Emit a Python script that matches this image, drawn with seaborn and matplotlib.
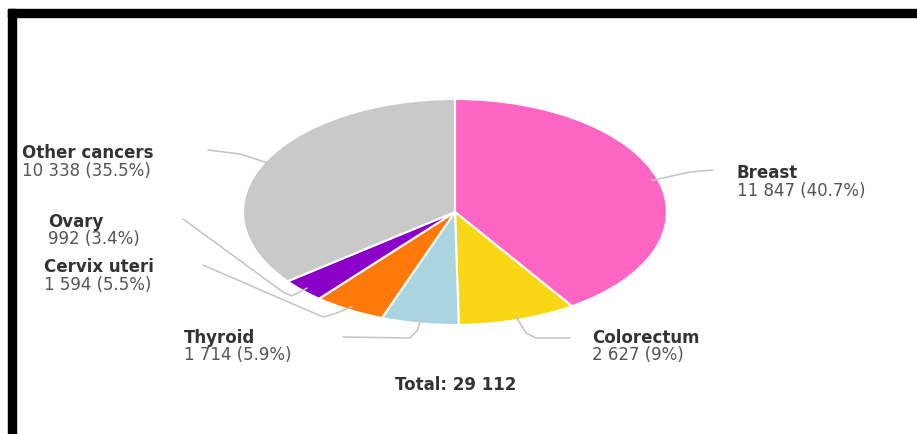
import matplotlib
matplotlib.use("Agg")
import matplotlib.pyplot as plt
from matplotlib.patches import Rectangle
import numpy as np
import seaborn as sns

# data
sites = ["Breast", "Colorectum", "Thyroid", "Cervix uteri", "Ovary", "Other cancers"]
cases = [11847, 2627, 1714, 1594, 992, 10338]
shares = ["40.7%", "9%", "5.9%", "5.5%", "3.4%", "35.5%"]
total = 29112

colors = ["#FF66C4", "#FAD714", "#A9D4E0", "#FF7A0A", "#8B00C9", "#C9C9C9"]

# label layout in pixels (left x, name line y) and leader elbows
label_pos = {
    "Breast": (737, 173),
    "Colorectum": (592, 338),
    "Thyroid": (184, 338),
    "Cervix uteri": (44, 267),
    "Ovary": (48, 222),
    "Other cancers": (22, 153),
}
leaders = {
    "Breast": [(713, 170), (690, 172)],
    "Colorectum": [(570, 338), (536, 338), (526, 333)],
    "Thyroid": [(343, 337), (410, 338), (417, 331)],
    "Cervix uteri": [(203, 265), (323, 317), (334, 314)],
    "Ovary": [(183, 219), (283, 292), (292, 296)],
    "Other cancers": [(208, 150), (240, 154)],
}

sns.set_theme(style="white")
plt.rcParams["font.family"] = ["DejaVu Sans"]

W, H = 917, 434
fig = plt.figure(figsize=(W / 100, H / 100), dpi=100)
fig.patch.set_facecolor("white")

# pie axes, stretched into an ellipse like the reference
cx, cy, rx, ry = 455, 212, 212, 113
ax = fig.add_axes([0, 0, 1, 1])
wedges, _ = ax.pie(cases, colors=colors, startangle=90, counterclock=False,
                   wedgeprops=dict(edgecolor="white", linewidth=1.5))
ax.set_aspect("auto")
ax.set_xlim(-cx / rx, (W - cx) / rx)
ax.set_ylim(-(H - cy) / ry, cy / ry)
ax.axis("off")

# overlay in pixel coordinates for labels and leaders
ov = fig.add_axes([0, 0, 1, 1], facecolor="none")
ov.set_xlim(0, W)
ov.set_ylim(H, 0)
ov.axis("off")

to_px = ax.transData + ov.transData.inverted()

fs = 12
gap = 17.5
for w, site, n, pct in zip(wedges, sites, cases, shares):
    mid = np.deg2rad((w.theta1 + w.theta2) / 2)
    rim = to_px.transform((0.97 * np.cos(mid), 0.97 * np.sin(mid)))
    pts = leaders[site] + [tuple(rim)]
    xs, ys = zip(*pts)
    ov.plot(xs, ys, color="#C4C4C4", lw=1.1, solid_capstyle="round")

    x, y = label_pos[site]
    ov.text(x, y, site, fontsize=fs, fontweight="bold", color="#333333",
            va="center", ha="left")
    val = f"{n:,}".replace(",", " ")
    ov.text(x, y + gap, f"{val} ({pct})", fontsize=fs, color="#555555",
            va="center", ha="left")

tot = f"{total:,}".replace(",", " ")
ov.text(456, 385, f"Total: {tot}", fontsize=fs, fontweight="bold",
        color="#333333", va="center", ha="center")

# black frame on top and left
ov.add_patch(Rectangle((8, 9), W - 8, 8, color="black", clip_on=False))
ov.add_patch(Rectangle((8, 9), 8, H - 9, color="black", clip_on=False))

fig.savefig("out.png", dpi=100, facecolor="white")
